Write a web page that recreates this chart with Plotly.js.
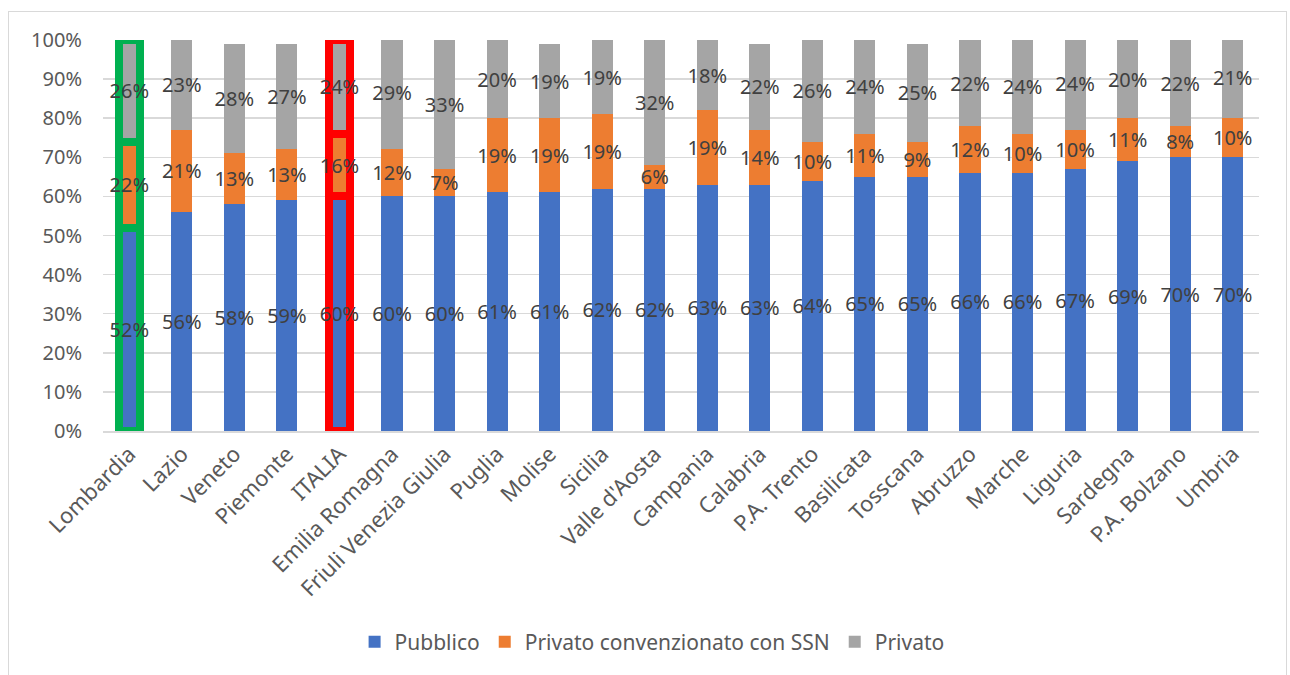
<!DOCTYPE html>
<html>
<head>
<meta charset="utf-8">
<script src="https://cdn.plot.ly/plotly-3.0.1.min.js"></script>
<style>
  html, body { margin: 0; padding: 0; background: #ffffff; width: 1290px; height: 675px; overflow: hidden; }
  #frame { position: absolute; left: 8px; top: 11px; width: 1279px; height: 700px; border: 1px solid #d9d9d9; box-sizing: border-box; }
  #chart { position: absolute; left: 0; top: 0; width: 1290px; height: 675px; }
</style>
</head>
<body>
<div id="frame"></div>
<div id="chart"></div>
<script>
const categories = ["Lombardia", "Lazio", "Veneto", "Piemonte", "ITALIA", "Emilia Romagna",
  "Friuli Venezia Giulia", "Puglia", "Molise", "Sicilia", "Valle d'Aosta", "Campania",
  "Calabria", "P.A. Trento", "Basilicata", "Tosscana", "Abruzzo", "Marche", "Liguria",
  "Sardegna", "P.A. Bolzano", "Umbria"];
const pubblico   = [52, 56, 58, 59, 60, 60, 60, 61, 61, 62, 62, 63, 63, 64, 65, 65, 66, 66, 67, 69, 70, 70];
const convenz    = [22, 21, 13, 13, 16, 12, 7, 19, 19, 19, 6, 19, 14, 10, 11, 9, 12, 10, 10, 11, 8, 10];
const privato    = [26, 23, 28, 27, 24, 29, 33, 20, 19, 19, 32, 18, 22, 26, 24, 25, 22, 24, 24, 20, 22, 21];
const seriesNames = ["Pubblico", "Privato convenzionato con SSN", "Privato"];
const seriesColors = ["#4472C4", "#ED7D31", "#A5A5A5"];
const highlight = {"Lombardia": "#00B050", "ITALIA": "#FF0000"};

const lineColors = categories.map(c => highlight[c] || "rgba(0,0,0,0)");
const lineWidths = categories.map(c => highlight[c] ? 8 : 0);
const labelFont = {family: "Noto Sans, Open Sans, sans-serif", size: 20, color: "#404040"};

const traces = [pubblico, convenz, privato].map((vals, i) => ({
  type: "bar",
  name: seriesNames[i],
  legendgroup: "s" + i,
  showlegend: false,
  x: categories,
  y: vals,
  marker: {color: seriesColors[i], line: {color: lineColors, width: lineWidths}},
  text: vals.map(v => v + "%"),
  texttemplate: "%{text}",
  textposition: "inside",
  insidetextanchor: "middle",
  textangle: 0,
  constraintext: "none",
  textfont: labelFont,
  insidetextfont: labelFont,
  hoverinfo: "skip"
}));

// legend-only entries (plain swatches, without the highlight outline)
seriesNames.forEach((n, i) => {
  traces.push({
    type: "bar", name: n, legendgroup: "s" + i, showlegend: true,
    x: [categories[categories.length - 1]], y: [0],
    marker: {color: seriesColors[i], line: {width: 0}},
    hoverinfo: "skip"
  });
});

const layout = {
  width: 1290, height: 675,
  margin: {l: 103, r: 31, t: 40, b: 242},
  paper_bgcolor: "rgba(0,0,0,0)",
  plot_bgcolor: "rgba(0,0,0,0)",
  barmode: "stack",
  bargap: 0.6,
  showlegend: true,
  font: {family: "Noto Sans, Open Sans, sans-serif", size: 20, color: "#595959"},
  xaxis: {
    tickangle: -45,
    tickfont: {size: 22, color: "#595959"},
    showline: true, linecolor: "#d9d9d9", linewidth: 1.5,
    showgrid: false, ticks: "", fixedrange: true
  },
  yaxis: {
    range: [0, 100], dtick: 10, ticksuffix: "%",
    showgrid: true, gridcolor: "#d9d9d9", gridwidth: 1.5,
    zeroline: false, showline: false, ticks: "",
    tickfont: {size: 20, color: "#595959"},
    ticklabelstandoff: 20, fixedrange: true
  },
  legend: {
    orientation: "h", x: 0.475, xanchor: "center", y: -0.54, yanchor: "middle",
    font: {size: 21, color: "#595959"}, traceorder: "normal",
    bgcolor: "rgba(0,0,0,0)"
  }
};

Plotly.newPlot("chart", traces, layout, {displayModeBar: false, staticPlot: true});
</script>
</body>
</html>
